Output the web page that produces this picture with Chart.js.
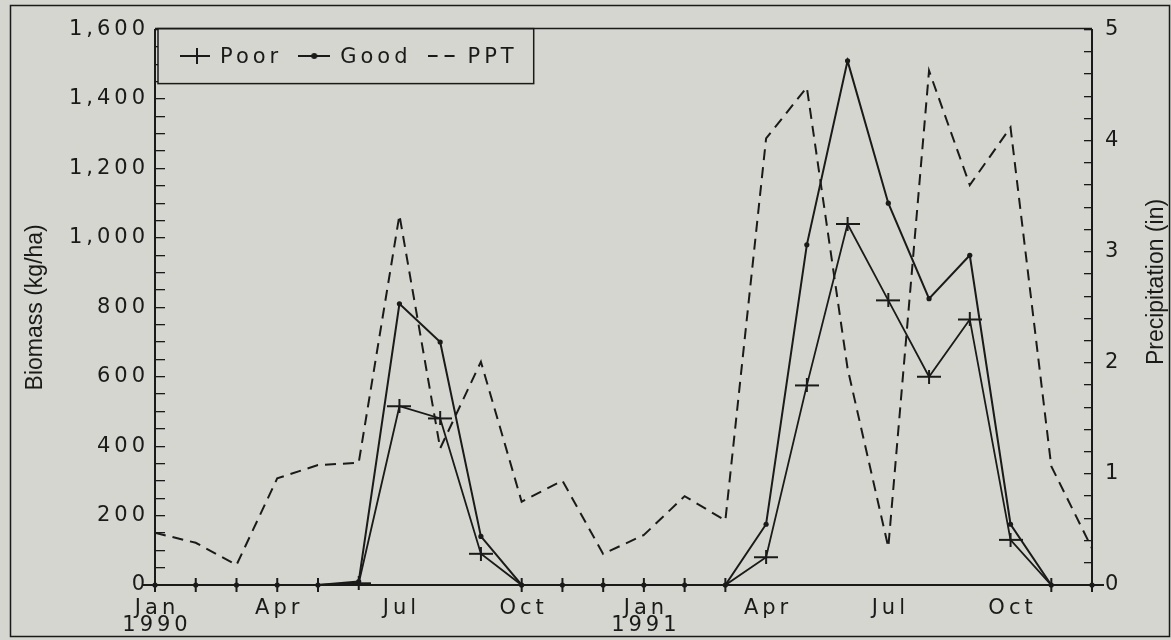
<!DOCTYPE html>
<html>
<head>
<meta charset="utf-8">
<script src="https://cdn.jsdelivr.net/npm/chart.js@4.4.0/dist/chart.umd.min.js"></script>
<style>
html,body{margin:0;padding:0;background:#d4d6cf;}
#caja{width:1171px;height:640px;}
</style>
</head>
<body>
<div id="caja"><canvas id="biomasaChart" width="1171" height="640"></canvas></div>
<script>
// meses Jan 1990 .. Dec 1991
const meses = [
  ['Jan','1990'],'','','Apr','','','Jul','','','Oct','','',
  ['Jan','1991'],'','','Apr','','','Jul','','','Oct','',''
];
const poor = [0,0,0,0,0,5,515,480,90,0,0,0,0,0,0,80,575,1040,820,600,765,130,0,0];
const good = [0,0,0,0,0,10,810,700,140,0,0,0,0,0,0,175,980,1510,1100,825,950,175,0,0];
const ppt  = [0.47,0.38,0.18,0.96,1.08,1.10,3.33,1.23,2.01,0.75,0.94,0.28,0.45,0.80,0.58,4.02,4.48,1.95,0.34,4.63,3.60,4.12,1.07,0.33];

const tituloIzq = 'Biomass (kg/ha)';
const tituloDer = 'Precipitation (in)';

const INK = '#1a1a1a';
const FONDO = '#d4d6cf';
const ESPACIO = '4px';
const fuenteTick = {family:'"DejaVu Sans", sans-serif', size:21, lineHeight:0.82};

function lienzo(w, h, dibujar){
  const c = document.createElement('canvas');
  c.width = w; c.height = h;
  const g = c.getContext('2d');
  g.strokeStyle = INK; g.fillStyle = INK;
  dibujar(g);
  return c;
}

const cruz = lienzo(24, 14, g => {
  g.lineWidth = 2;
  g.beginPath();
  g.moveTo(0, 7); g.lineTo(24, 7);
  g.moveTo(12, 0); g.lineTo(12, 14);
  g.stroke();
});

const simbolos = [
  lienzo(30, 16, g => {
    g.lineWidth = 2;
    g.beginPath();
    g.moveTo(0, 8); g.lineTo(30, 8);
    g.moveTo(17, 0); g.lineTo(17, 16);
    g.stroke();
  }),
  lienzo(32, 8, g => {
    g.lineWidth = 2;
    g.beginPath(); g.moveTo(0, 4); g.lineTo(32, 4); g.stroke();
    g.beginPath(); g.arc(16, 4, 3, 0, Math.PI*2); g.fill();
  }),
  lienzo(30, 4, g => {
    g.lineWidth = 2;
    g.beginPath();
    g.moveTo(0, 2); g.lineTo(10, 2);
    g.moveTo(17, 2); g.lineTo(27, 2);
    g.stroke();
  })
];

const leyenda = {
  id:'leyenda',
  afterDatasetsDraw(chart){
    const ctx = chart.ctx, a = chart.chartArea;
    ctx.save();
    ctx.letterSpacing = ESPACIO;
    ctx.font = '21px "DejaVu Sans"';
    const izq = a.left + 3, arriba = a.top - 1, alto = 55;
    const cy = arriba + alto/2;
    let ancho = 22;
    chart.data.datasets.forEach((ds,i) => {
      ancho += simbolos[i].width + 10 + ctx.measureText(ds.label).width + 16;
    });
    ctx.fillStyle = FONDO;
    ctx.fillRect(izq, arriba, ancho, alto);
    ctx.strokeStyle = INK; ctx.lineWidth = 1.5;
    ctx.strokeRect(izq, arriba, ancho, alto);
    ctx.fillStyle = INK;
    ctx.textBaseline = 'middle';
    let x = izq + 22;
    chart.data.datasets.forEach((ds,i) => {
      const s = simbolos[i];
      ctx.drawImage(s, x, Math.round(cy - s.height/2));
      x += s.width + 10;
      ctx.fillText(ds.label, x, cy + 1);
      x += ctx.measureText(ds.label).width + 16;
    });
    ctx.restore();
    ctx.letterSpacing = ESPACIO;
  },
  afterDraw(chart){
    const ctx = chart.ctx, a = chart.chartArea;
    ctx.letterSpacing = '0px';
    ctx.save();
    ctx.strokeStyle = INK;
    ctx.lineWidth = 1.5;
    ctx.beginPath();
    ctx.moveTo(a.left, a.top - 1); ctx.lineTo(a.right, a.top - 1);
    ctx.stroke();
    ctx.strokeRect(10.5, 5.5, 1159, 631);
    ctx.translate(a.right + 65, 282);
    ctx.rotate(-Math.PI/2);
    ctx.font = '23px "Liberation Sans", Arial, sans-serif';
    ctx.fillStyle = INK;
    ctx.textAlign = 'center';
    ctx.textBaseline = 'middle';
    ctx.fillText(tituloDer, 0, 0);
    ctx.restore();
  }
};

const ctx = document.getElementById('biomasaChart').getContext('2d');

const chart = new Chart(ctx,{
  type:'line',
  data:{
    labels:meses,
    datasets:[
      {
        label:'Poor',
        data:poor,
        yAxisID:'y',
        borderColor:INK,
        borderWidth:1.8,
        pointStyle:cruz,
        pointRadius:5,
        tension:0,
        clip:false
      },
      {
        label:'Good',
        data:good,
        yAxisID:'y',
        borderColor:INK,
        borderWidth:2,
        pointStyle:'circle',
        pointRadius:2.6,
        pointBorderWidth:0,
        pointBackgroundColor:INK,
        tension:0,
        clip:false
      },
      {
        label:'PPT',
        data:ppt,
        yAxisID:'y1',
        borderColor:INK,
        borderWidth:2,
        borderDash:[11,7],
        pointRadius:0,
        tension:0,
        clip:false
      }
    ]
  },
  options:{
    responsive:false,
    animation:false,
    layout:{padding:{top:25,left:0,right:0,bottom:0}},
    plugins:{
      legend:{display:false},
      tooltip:{enabled:false}
    },
    scales:{
      x:{
        offset:false,
        grid:{display:false},
        border:{display:true,color:INK,width:2},
        ticks:{
          z:1,
          color:INK,
          font:fuenteTick,
          autoSkip:false,
          maxRotation:0,
          padding:7,
          labelOffset:2
        },
        afterFit(s){ s.height = 55; }
      },
      y:{
        position:'left',
        min:0,
        max:1600,
        grid:{drawOnChartArea:false,drawTicks:true,tickLength:-10,color:INK,lineWidth:1.3},
        border:{display:true,color:INK,width:2},
        ticks:{
          z:1,
          color:INK,
          font:fuenteTick,
          stepSize:50,
          autoSkip:false,
          padding:16,
          callback:v => v % 200 === 0 ? v.toLocaleString('en-US') : ''
        },
        title:{
          display:true,
          text:tituloIzq,
          color:INK,
          font:{family:'"Liberation Sans", Arial, sans-serif',size:23},
          padding:{top:22,bottom:0}
        },
        afterFit(s){ s.width = 155; }
      },
      y1:{
        position:'right',
        min:0,
        max:5,
        grid:{drawOnChartArea:false,drawTicks:true,tickLength:-8,color:INK,lineWidth:1.3},
        border:{display:true,color:INK,width:2},
        ticks:{
          z:1,
          color:INK,
          font:fuenteTick,
          stepSize:0.2,
          autoSkip:false,
          padding:21,
          callback:v => Math.abs(v - Math.round(v)) < 1e-6 ? String(Math.round(v)) : ''
        },
        afterFit(s){ s.width = 79; }
      }
    }
  },
  plugins:[leyenda]
});
</script>
</body>
</html>
